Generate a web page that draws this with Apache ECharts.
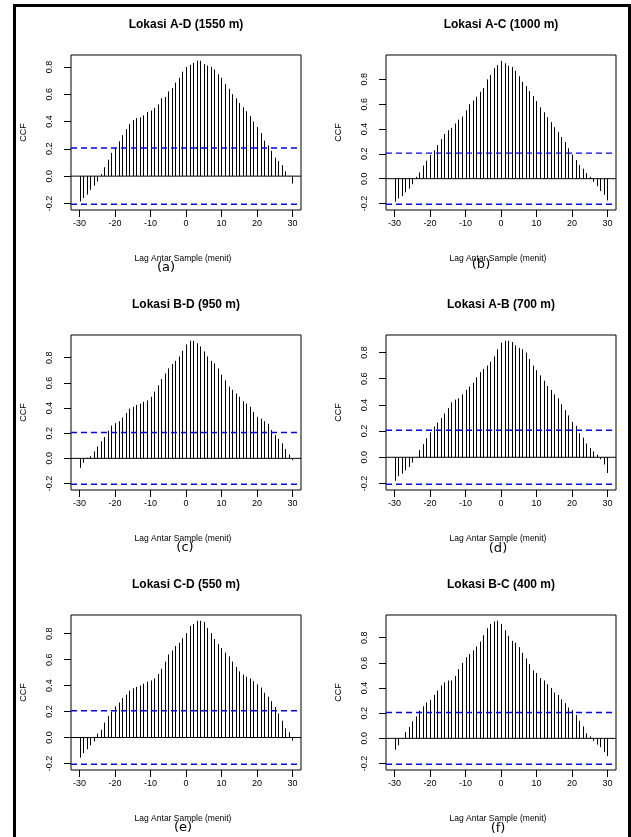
<!DOCTYPE html>
<html>
<head>
    <meta charset="utf-8">
    <script src="https://cdn.jsdelivr.net/npm/echarts@6/dist/echarts.min.js"></script>
    <style>
        html, body { margin: 0; padding: 0; background: #fff; }
        #main { width: 631px; height: 837px; }
    </style>
</head>
<body>
<div id="main"></div>
<script type="text/javascript">
    // lag (menit)
    var lags = [-30,-29,-28,-27,-26,-25,-24,-23,-22,-21,-20,-19,-18,-17,-16,-15,-14,-13,-12,-11,
        -10,-9,-8,-7,-6,-5,-4,-3,-2,-1,0,1,2,3,4,5,6,7,8,9,
        10,11,12,13,14,15,16,17,18,19,20,21,22,23,24,25,26,27,28,29,30];

    // nilai CCF tiap pasangan lokasi
    var ccfAD = [-0.185,-0.16,-0.135,-0.10,-0.07,-0.04,0.015,0.065,0.12,0.17,
        0.205,0.255,0.30,0.345,0.38,0.41,0.425,0.43,0.445,0.47,
        0.48,0.50,0.525,0.57,0.58,0.62,0.645,0.685,0.72,0.765,
        0.80,0.815,0.83,0.845,0.845,0.82,0.81,0.80,0.78,0.745,
        0.72,0.675,0.64,0.60,0.57,0.535,0.505,0.475,0.44,0.40,
        0.36,0.315,0.26,0.225,0.185,0.135,0.11,0.08,0.035,0.003,-0.055];
    var ccfAC = [-0.185,-0.16,-0.14,-0.11,-0.08,-0.045,0.015,0.05,0.105,0.145,
        0.19,0.23,0.27,0.32,0.36,0.39,0.41,0.445,0.475,0.50,
        0.55,0.60,0.63,0.66,0.70,0.73,0.80,0.835,0.89,0.915,
        0.95,0.93,0.91,0.90,0.87,0.825,0.78,0.745,0.705,0.665,
        0.625,0.575,0.535,0.495,0.455,0.415,0.375,0.335,0.295,0.245,
        0.195,0.15,0.11,0.08,0.045,0.015,-0.025,-0.06,-0.10,-0.13,-0.175];
    var ccfBD = [-0.075,-0.035,0.005,0.015,0.055,0.095,0.135,0.17,0.22,0.26,
        0.28,0.295,0.325,0.36,0.395,0.41,0.425,0.435,0.45,0.46,
        0.49,0.53,0.58,0.63,0.675,0.715,0.75,0.775,0.81,0.855,
        0.905,0.935,0.935,0.915,0.89,0.85,0.81,0.775,0.755,0.715,
        0.665,0.62,0.57,0.545,0.515,0.49,0.455,0.435,0.41,0.37,
        0.33,0.315,0.295,0.275,0.225,0.185,0.155,0.12,0.075,0.03,-0.015];
    var ccfAB = [-0.18,-0.145,-0.125,-0.10,-0.075,-0.04,-0.005,0.055,0.10,0.145,
        0.19,0.235,0.265,0.30,0.335,0.375,0.42,0.44,0.45,0.48,
        0.515,0.54,0.57,0.61,0.65,0.675,0.70,0.73,0.77,0.825,
        0.875,0.89,0.89,0.88,0.855,0.835,0.825,0.80,0.75,0.70,
        0.665,0.625,0.585,0.545,0.515,0.48,0.45,0.405,0.36,0.32,
        0.27,0.24,0.185,0.15,0.105,0.07,0.045,0.02,-0.015,-0.055,-0.12];
    var ccfCD = [-0.155,-0.12,-0.09,-0.06,-0.03,0.03,0.06,0.115,0.165,0.20,
        0.24,0.27,0.305,0.33,0.36,0.38,0.39,0.40,0.415,0.43,
        0.44,0.455,0.49,0.53,0.585,0.64,0.67,0.705,0.73,0.765,
        0.805,0.86,0.875,0.90,0.90,0.89,0.845,0.805,0.76,0.72,
        0.69,0.655,0.625,0.585,0.545,0.51,0.485,0.47,0.455,0.435,
        0.41,0.385,0.345,0.315,0.28,0.235,0.185,0.13,0.07,0.04,-0.025];
    var ccfBC = [-0.09,-0.055,-0.005,0.05,0.09,0.135,0.175,0.22,0.255,0.285,
        0.305,0.345,0.38,0.42,0.445,0.46,0.46,0.495,0.55,0.60,
        0.645,0.67,0.70,0.73,0.77,0.82,0.875,0.91,0.93,0.935,
        0.91,0.86,0.815,0.775,0.76,0.725,0.68,0.635,0.59,0.54,
        0.52,0.48,0.46,0.43,0.40,0.365,0.345,0.31,0.28,0.245,
        0.225,0.185,0.14,0.095,0.04,0.015,-0.02,-0.05,-0.07,-0.11,-0.14];

    // batas kepercayaan 95% (garis biru putus-putus)
    var ciLevels = [0.206, 0.206, 0.206, 0.206, 0.206, 0.206];

    var panelData = [ccfAD, ccfAC, ccfBD, ccfAB, ccfCD, ccfBC];
    var panelTitles = ['Lokasi A-D (1550 m)', 'Lokasi A-C (1000 m)', 'Lokasi B-D (950 m)',
        'Lokasi A-B (700 m)', 'Lokasi C-D (550 m)', 'Lokasi B-C (400 m)'];
    var panelTags = ['(a)', '(b)', '(c)', '(d)', '(e)', '(f)'];
    var xTicks = [-30, -20, -10, 0, 10, 20, 30];
    var yTicks = [-0.2, 0, 0.2, 0.4, 0.6, 0.8];

    // posisi kotak plot (px)
    var colLeft = [71, 386];
    var rowTop = [55, 335, 615];
    var boxW = 230, boxH = 155;
    var tagDx = [95, 95, 114, 112, 112, 112];
    var tagDy = [213, 210, 213, 214, 213, 214];

    var FONT = '"Liberation Sans", Arial, sans-serif';

    function renderStick(params, api) {
        var p0 = api.coord([api.value(0), 0]);
        var p1 = api.coord([api.value(0), api.value(1)]);
        return {
            type: 'line',
            shape: {x1: Math.round(p0[0]) + 0.5, y1: p0[1], x2: Math.round(p1[0]) + 0.5, y2: p1[1]},
            style: {stroke: '#000', lineWidth: 1}
        };
    }

    // garis horizontal selebar kotak plot
    function hLine(i, y, color, type, width) {
        return {
            type: 'line',
            xAxisIndex: i, yAxisIndex: i,
            data: [[-32.4, y], [32.4, y]],
            symbol: 'none', silent: true, z: 3,
            lineStyle: {color: color, width: width, type: type}
        };
    }

    function buildOption() {
        var grids = [], xAxes = [], yAxes = [], series = [], graphics = [];

        for (var i = 0; i < 6; i++) {
            var bx = colLeft[i % 2];
            var by = rowTop[Math.floor(i / 2)];
            var vals = panelData[i];
            var ci = ciLevels[i];
            // ylim seperti R: rentang data + batas, ditambah 4%
            var lo = Math.min(Math.min.apply(null, vals), -ci);
            var hi = Math.max(Math.max.apply(null, vals), ci);
            var pad = (hi - lo) * 0.04;

            grids.push({
                left: bx, top: by, width: boxW, height: boxH,
                show: true, borderColor: '#000', borderWidth: 1,
                outerBoundsMode: 'none'
            });
            xAxes.push({
                gridIndex: i, type: 'value', min: -32.4, max: 32.4, position: 'bottom',
                splitLine: {show: false},
                axisLine: {show: false, onZero: false},
                axisTick: {show: true, inside: false, length: 7, customValues: xTicks, lineStyle: {color: '#000'}},
                axisLabel: {customValues: xTicks, margin: 9, fontSize: 9, color: '#000', fontFamily: FONT}
            });
            yAxes.push({
                gridIndex: i, type: 'value', min: lo - pad, max: hi + pad, position: 'left',
                splitLine: {show: false},
                axisLine: {show: false, onZero: false},
                axisTick: {show: true, inside: false, length: 7, customValues: yTicks, lineStyle: {color: '#000'}},
                axisLabel: {
                    customValues: yTicks, margin: 17, fontSize: 9, color: '#000', fontFamily: FONT, rotate: 90,
                    formatter: function (v) { return v.toFixed(1); }
                }
            });

            var pts = [];
            for (var k = 0; k < lags.length; k++) {
                pts.push([lags[k], vals[k]]);
            }
            series.push({
                type: 'custom',
                xAxisIndex: i, yAxisIndex: i,
                data: pts,
                renderItem: renderStick,
                silent: true
            });
            series.push(hLine(i, 0, '#000', 'solid', 1));
            series.push(hLine(i, ci, '#0000ff', [6, 4], 1.4));
            series.push(hLine(i, -ci, '#0000ff', [6, 4], 1.4));

            // judul, label sumbu, huruf panel
            graphics.push({
                type: 'text', x: bx + boxW / 2, y: by - 30,
                style: {text: panelTitles[i], font: 'bold 12px ' + FONT, fill: '#000', align: 'center', verticalAlign: 'middle'}
            });
            graphics.push({
                type: 'text', x: bx - 47, y: by + boxH / 2, rotation: Math.PI / 2,
                style: {text: 'CCF', font: '9px ' + FONT, fill: '#000', align: 'center', verticalAlign: 'middle'}
            });
            graphics.push({
                type: 'text', x: bx + boxW / 2 - 3, y: by + 204,
                style: {text: 'Lag Antar Sample (menit)', font: '8.5px ' + FONT, fill: '#000', align: 'center', verticalAlign: 'middle'}
            });
            graphics.push({
                type: 'text', x: bx + tagDx[i], y: by + tagDy[i],
                style: {text: panelTags[i], font: '13px "DejaVu Sans", sans-serif', fill: '#000', align: 'center', verticalAlign: 'middle'}
            });
        }

        // bingkai hitam di sekeliling gambar
        graphics.push({type: 'rect', shape: {x: 13, y: 4, width: 3, height: 833}, style: {fill: '#000'}});
        graphics.push({type: 'rect', shape: {x: 13, y: 4, width: 618, height: 3}, style: {fill: '#000'}});
        graphics.push({type: 'rect', shape: {x: 628, y: 4, width: 3, height: 833}, style: {fill: '#000'}});

        return {
            animation: false,
            backgroundColor: '#fff',
            grid: grids,
            xAxis: xAxes,
            yAxis: yAxes,
            series: series,
            graphic: graphics
        };
    }

    var myChart = echarts.init(document.getElementById('main'));
    myChart.setOption(buildOption());
</script>
</body>
</html>
